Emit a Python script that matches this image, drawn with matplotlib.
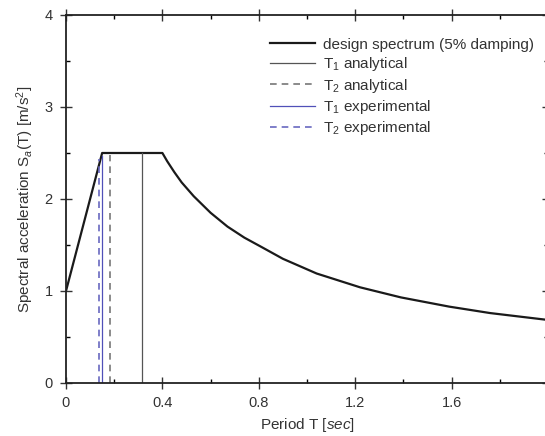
import matplotlib.pyplot as plt
from matplotlib.ticker import MultipleLocator

plt.rcParams['font.family'] = ['Liberation Sans', 'DejaVu Sans']
plt.rcParams['mathtext.fontset'] = 'custom'
plt.rcParams['mathtext.rm'] = 'Liberation Sans'
plt.rcParams['mathtext.it'] = 'Liberation Sans:italic'

# design spectrum
period = [0.0, 0.15, 0.40, 0.42, 0.45, 0.48, 0.53, 0.60, 0.67, 0.74, 0.81, 0.90,
          1.04, 1.22, 1.39, 1.59, 1.76, 2.0]
sa = [1.0, 2.5, 2.5, 2.41, 2.29, 2.18, 2.03, 1.85, 1.70, 1.58, 1.48, 1.35,
      1.19, 1.04, 0.93, 0.83, 0.76, 0.685]

# modal periods [sec] and line tops
t1_ana, t2_ana = 0.314, 0.183
t1_exp, t2_exp = 0.148, 0.137
top_ana = [2.5, 2.48]
top_exp = [2.47, 2.43]

fig = plt.figure(figsize=(5.45, 4.36), dpi=100)
ax = fig.add_axes([0.1211, 0.1216, 0.8844, 0.844])

ax.plot(period, sa, color='#1a1a1a', lw=1.6, label='design spectrum (5% damping)')
ax.plot([t1_ana, t1_ana], [0, top_ana[0]], color='#555555', lw=0.9, label='T$_1$ analytical')
ax.plot([t2_ana, t2_ana], [0, top_ana[1]], color='#777777', lw=1.2, ls=(0, (4, 3)),
        label='T$_2$ analytical')
ax.plot([t1_exp, t1_exp], [0, top_exp[0]], color='#5050b8', lw=0.9, label='T$_1$ experimental')
ax.plot([t2_exp, t2_exp], [0, top_exp[1]], color='#6868c0', lw=1.2, ls=(0, (4, 3)),
        label='T$_2$ experimental')

ax.set_xlim(0, 2)
ax.set_ylim(0, 4)
ax.xaxis.set_minor_locator(MultipleLocator(0.2))
ax.yaxis.set_major_locator(MultipleLocator(1))
ax.yaxis.set_minor_locator(MultipleLocator(0.5))
ax.set_xticks([0, 0.4, 0.8, 1.2, 1.6, 2.0])
ax.set_xticklabels(['0', '0.4', '0.8', '1.2', '1.6', '2'])
ax.tick_params(which='major', direction='inout', length=9, width=1, top=True, right=True,
               labelsize=10.5, colors='#333333', pad=5)
ax.tick_params(which='minor', direction='in', length=3, width=1, top=True, right=True)
for s in ax.spines.values():
    s.set_linewidth(1.3)
    s.set_color('#222222')

ax.set_xlabel('Period T [$\\mathit{sec}$]', fontsize=11, color='#333333', labelpad=4)
ax.set_ylabel('Spectral acceleration S$_a$(T) [m/s$^2$]', fontsize=11, color='#333333',
              labelpad=6)

leg = ax.legend(loc='upper right', bbox_to_anchor=(0.99, 0.963), frameon=False, fontsize=11,
                handlelength=2.95, handletextpad=0.5, labelspacing=0.22, borderaxespad=0.2)
for t in leg.get_texts():
    t.set_color('#333333')

fig.savefig('out.png', dpi=100)
